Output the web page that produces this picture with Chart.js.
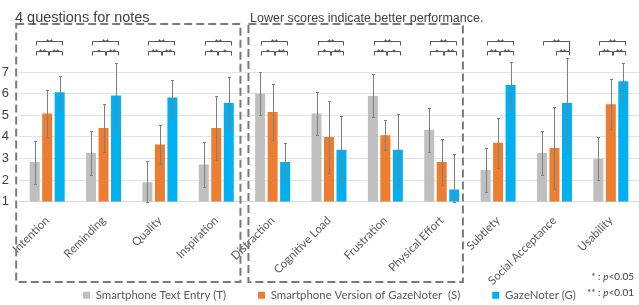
<!DOCTYPE html>
<html>
<head>
<meta charset="utf-8">
<script src="https://cdn.jsdelivr.net/npm/chart.js@4.4.1/dist/chart.umd.min.js"></script>
<style>
  html, body { margin: 0; padding: 0; background: #fff; }
  #wrap { width: 639px; height: 305px; position: relative; }
</style>
</head>
<body>
<div id="wrap"><canvas id="scores"></canvas></div>
<script>
const categories = ["Intention", "Reminding", "Quality", "Inspiration", "Distraction", "Cognitive Load",
    "Frustration", "Physical Effort", "Subtlety", "Social Acceptance", "Usability"];

// mean scores and SD
const textEntry = [2.83, 3.25, 1.90, 2.72, 6.01, 5.08, 5.90, 4.33, 2.47, 3.25, 2.99];
const textEntryErr = [1.00, 1.03, 1.00, 1.03, 1.00, 1.00, 1.00, 1.03, 1.01, 1.00, 1.00];
const phoneGaze = [5.08, 4.41, 3.65, 4.41, 5.15, 3.99, 4.07, 2.83, 3.73, 3.48, 5.51];
const phoneGazeErr = [1.10, 1.10, 0.90, 1.47, 1.28, 1.66, 0.69, 1.05, 1.15, 1.90, 1.16];
const gazeNoter = [6.07, 5.92, 5.82, 5.57, 2.83, 3.40, 3.40, 1.56, 6.40, 5.57, 6.58];
const gazeNoterErr = [0.73, 1.50, 0.80, 1.20, 0.87, 1.59, 1.67, 1.63, 1.07, 2.07, 0.86];

// significance marks: T vs G, T vs S, S vs G
const sigTG = ["**", "**", "**", "**", "**", "**", "**", "**", "**", "**", "**"];
const sigTS = ["**", "*", "**", "*", "*", "*", "**", "*", "**", "", "**"];
const sigSG = ["**", "**", "**", "*", "**", "**", "*", "**", "**", "**", "**"];

const yTicks = [1, 2, 3, 4, 5, 6, 7];

const errorBars = {
    id: "errorBars",
    afterDatasetsDraw(chart) {
        const {ctx, scales: {y}} = chart;
        ctx.save();
        ctx.strokeStyle = "#7f7f7f";
        ctx.lineWidth = 1;
        chart.data.datasets.forEach((ds, i) => {
            chart.getDatasetMeta(i).data.forEach((bar, j) => {
                const v = ds.data[j], e = ds.errors[j];
                const x = Math.round(bar.x) + 0.5;
                const top = Math.round(y.getPixelForValue(v + e)) + 0.5;
                const bot = Math.round(y.getPixelForValue(Math.max(v - e, y.min))) + 0.5;
                ctx.beginPath();
                ctx.moveTo(x, top); ctx.lineTo(x, bot);
                ctx.moveTo(x - 1.5, top); ctx.lineTo(x + 1.5, top);
                ctx.moveTo(x - 1.5, bot); ctx.lineTo(x + 1.5, bot);
                ctx.stroke();
            });
        });
        ctx.restore();
    }
};

const brackets = {
    id: "brackets",
    afterDatasetsDraw(chart) {
        const {ctx, scales: {y}} = chart;
        const [t, s, g] = [0, 1, 2].map(i => chart.getDatasetMeta(i).data);
        const yTop = Math.round(y.getPixelForValue(8.45)) + 0.5;
        const yLow = Math.round(y.getPixelForValue(8.0)) + 0.5;
        ctx.save();
        ctx.strokeStyle = "#595959";
        ctx.fillStyle = "#404040";
        ctx.lineWidth = 1;
        ctx.font = '9px "Liberation Sans"';
        ctx.textAlign = "center";
        const draw = (x1, x2, yy, label, rightLeg) => {
            ctx.beginPath();
            ctx.moveTo(x1, yy + 4);
            ctx.lineTo(x1, yy);
            ctx.lineTo(x2, yy);
            ctx.lineTo(x2, yy + rightLeg);
            ctx.stroke();
            ctx.fillText(label, (x1 + x2) / 2, yy + 1.5);
        };
        categories.forEach((c, j) => {
            const xT = Math.round(t[j].x) + 1.5;
            const xS = Math.round(s[j].x) + 1.5;
            const xG = Math.round(g[j].x) + 2.5;
            draw(xT, xG, yTop, sigTG[j], sigTS[j] ? 4 : yLow - yTop);
            if (sigTS[j]) draw(xT, xS, yLow, sigTS[j], 4);
            if (sigSG[j]) draw(xS + 1, xG, yLow, sigSG[j], 4);
        });
        ctx.restore();
    }
};

const frames = {
    id: "frames",
    afterLayout(chart) {
        // nudge the legend lower/right, and let x labels run past the axis box
        const lg = chart.legend;
        lg.top += 6; lg.bottom += 6;
        lg.left += 10; lg.right += 10;
        chart.scales.x.bottom = chart.height;
    },
    afterDraw(chart) {
        const {ctx, scales: {x}} = chart;
        const step = x.getPixelForValue(1) - x.getPixelForValue(0);
        const mid = i => (x.getPixelForValue(i) + x.getPixelForValue(i + 1)) / 2;
        const left1 = x.getPixelForValue(0) - 0.55 * step;
        ctx.save();
        ctx.strokeStyle = "#7a7a7a";
        ctx.lineWidth = 2;
        ctx.setLineDash([8, 4]);
        ctx.strokeRect(left1, 24, mid(3) - 4 - left1, 258);
        ctx.strokeRect(mid(3) + 4, 24, mid(7) - 7 - (mid(3) + 4), 258);
        ctx.setLineDash([]);

        ctx.fillStyle = "#404040";
        ctx.textAlign = "left";
        ctx.font = '14.5px "Liberation Sans"';
        ctx.fillText("4 questions for notes", 15, 18);
        ctx.font = '12.5px "Liberation Sans"';
        ctx.fillText("Lower scores indicate better performance.", 250, 19);

        const note = (stars, p, yy) => {
            const parts = [[stars + " : ", "10px Lato"], ["p", "italic 10px Lato"], [p, "10px Lato"]];
            let w = 0;
            parts.forEach(([txt, f]) => { ctx.font = f; w += ctx.measureText(txt).width; });
            let xx = 634 - w;
            ctx.textBaseline = "middle";
            parts.forEach(([txt, f]) => { ctx.font = f; ctx.fillText(txt, xx, yy); xx += ctx.measureText(txt).width; });
        };
        note("*", "<0.05", 277);
        note("**", "<0.01", 293);
        ctx.restore();
    }
};

const canvas = document.getElementById("scores");
const chart = new Chart(canvas, {
    type: "bar",
    data: {
        labels: categories,
        datasets: [{
            label: "Smartphone Text Entry (T)",
            data: textEntry,
            errors: textEntryErr,
            backgroundColor: "#bfbfbf"
        }, {
            label: "Smartphone Version of GazeNoter  (S)",
            data: phoneGaze,
            errors: phoneGazeErr,
            backgroundColor: "#ed7d31"
        }, {
            label: "GazeNoter (G)",
            data: gazeNoter,
            errors: gazeNoterErr,
            backgroundColor: "#00b0f0"
        }]
    },
    options: {
        responsive: true,
        maintainAspectRatio: false,
        animation: false,
        datasets: {
            bar: { barPercentage: 0.8, categoryPercentage: 0.665, borderWidth: 0 }
        },
        layout: { padding: { top: 29, left: 0, right: 0, bottom: 0 } },
        plugins: {
            legend: {
                position: "bottom",
                labels: {
                    boxWidth: 7,
                    boxHeight: 7,
                    padding: 32,
                    color: "#595959",
                    font: { family: "Lato", size: 11.4 }
                }
            },
            tooltip: { enabled: false }
        },
        scales: {
            x: {
                grid: { display: false },
                border: { color: "#d9d9d9" },
                ticks: {
                    autoSkip: false,
                    minRotation: 45,
                    maxRotation: 45,
                    padding: 4,
                    color: "#595959",
                    font: { family: "Lato", size: 11.5 }
                },
                afterFit(scale) { scale.height = 50; }
            },
            y: {
                min: 1,
                max: 9,
                ticks: {
                    stepSize: 1,
                    padding: 10,
                    color: "#404040",
                    font: { family: "Liberation Sans", size: 13 },
                    callback: v => yTicks.includes(v) ? v : null
                },
                grid: { color: "#e3e3e3", drawTicks: false },
                border: { display: false },
                afterFit(scale) { scale.width = 19; }
            }
        }
    },
    plugins: [errorBars, brackets, frames]
});
</script>
</body>
</html>
